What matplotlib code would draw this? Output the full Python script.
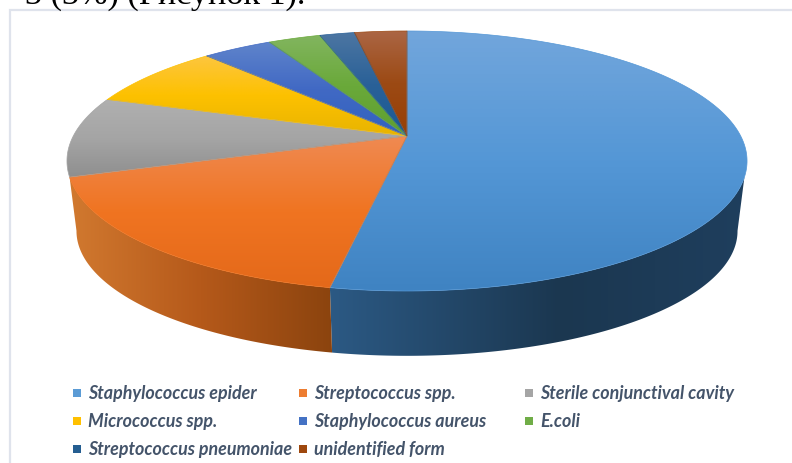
import numpy as np
import matplotlib
matplotlib.use("Agg")
import matplotlib.pyplot as plt
from matplotlib.colors import LinearSegmentedColormap
from matplotlib.patches import Polygon, Rectangle

labels = ["Staphylococcus epider", "Streptococcus spp.", "Sterile conjunctival cavity",
          "Micrococcus spp.", "Staphylococcus aureus", "E.coli",
          "Streptococcus pneumoniae", "unidentified form"]
values = [53, 17, 10, 8, 4, 3, 2, 3]

# light / base / dark shade of the top face of each slice
shades = [("#72a6dc", "#5497d6", "#3f83c2"),
          ("#ef8a52", "#f07421", "#e4691a"),
          ("#b0b0b0", "#a5a5a5", "#8f8f8f"),
          ("#fdc640", "#fdc100", "#e8b400"),
          ("#5f84cb", "#4169c4", "#3162bf"),
          ("#82b55f", "#6aa93a", "#5f9f30"),
          ("#4d76a2", "#2a6198", "#1a5a94"),
          ("#ab6645", "#9c4a14", "#973f06")]
legend_colors = ["#5b9bd5", "#ed7d31", "#a5a5a5", "#ffc000", "#4472c4", "#70ad47", "#255e91", "#9e480e"]
title_text = "3 (3%) (Рисунок 1)."

cx, cy = 407, 137
persp = 0.1923
rx, ry = 333.7, 98.85


def top_rim(a):
    # a is clockwise from 12 o'clock, perspective circle
    u, v = np.sin(a), np.cos(a)
    w = 1 + persp * v
    return cx + rx * u / w, (cy - ry * v) / w


def bottom_rim(a):
    x, y = top_rim(a)
    return cx + (x - cx) * 0.972, y * 0.96 + 76.5


def gradient_patch(ax, verts, cmap, horizontal=False, extent=None):
    poly = Polygon(verts, closed=True, transform=ax.transData, fc="none", ec="none")
    ax.add_patch(poly)
    x0, y0 = verts.min(axis=0)
    x1, y1 = verts.max(axis=0)
    if extent is not None:
        x0, x1 = extent
    g = np.linspace(0, 1, 256)
    g = g[None, :] if horizontal else g[:, None]
    im = ax.imshow(g, cmap=cmap, vmin=0, vmax=1, extent=(x0, x1, y1, y0),
                   aspect="auto", interpolation="bilinear", origin="upper")
    im.set_clip_path(poly)


fig = plt.figure(figsize=(7.92, 4.64), dpi=100)
ax = fig.add_axes([0, 0, 1, 1])

# chart frame, only top and left are inside the image
ax.plot([10, 10, 792], [464, 11, 11], color="#dfe3ec", lw=1.6, solid_joinstyle="miter")

edges = 2 * np.pi * np.cumsum([0] + values) / sum(values)
split = edges[1]

# side wall of the two front slices, horizontal shading
# each wall: top rim range, bottom rim range, colours, x span, middle stop
side_stops = [
    (np.radians(108), split, np.radians(101), split, ["#2c5a85", "#1b3750", "#1f3f5e"], (325, 752), 0.55),
    (split, edges[2], split, np.radians(259), ["#d27a30", "#b5591a", "#8a430e"], (66, 336), 0.5),
]
for t0, t1, b0, b1, cols, span, mid in side_stops:
    tx, ty = top_rim(np.linspace(t0, t1, 200))
    bx, by = bottom_rim(np.linspace(b0, b1, 200))
    verts = np.column_stack([np.r_[tx, bx[::-1]], np.r_[ty, by[::-1]]])
    cmap = LinearSegmentedColormap.from_list("side", [(0, cols[0]), (mid, cols[1]), (1, cols[2])])
    gradient_patch(ax, verts, cmap, horizontal=True, extent=span)

# top face
for i in range(len(values)):
    t = np.linspace(edges[i], edges[i + 1], 200)
    x, y = top_rim(t)
    verts = np.column_stack([np.r_[cx, x], np.r_[cy, y]])
    light, base, dark = shades[i]
    cmap = LinearSegmentedColormap.from_list("top", [light, base, dark])
    gradient_patch(ax, verts, cmap)
    ax.add_patch(Polygon(verts, closed=True, fc="none", ec=base, lw=0.5))

# legend
leg_x = [76, 302, 528]
leg_y = [393, 421, 449]
for i, name in enumerate(labels):
    lx = leg_x[i % 3]
    ly = leg_y[i // 3]
    ax.add_patch(Rectangle((lx - 3.5, ly - 3.5), 8, 8, fc=legend_colors[i], ec="none"))
    ax.text(lx + 12, ly + 1, name, family="Lato", style="italic", weight="bold",
            fontsize=12.9, color="#44546a", va="center", ha="left")

ax.text(25, 4, title_text, family="Liberation Serif", fontsize=24.6, color="black",
        va="baseline", ha="left")

ax.set_xlim(0, 792)
ax.set_ylim(464, 0)
ax.axis("off")
fig.savefig("out.png", dpi=100, facecolor="white")
